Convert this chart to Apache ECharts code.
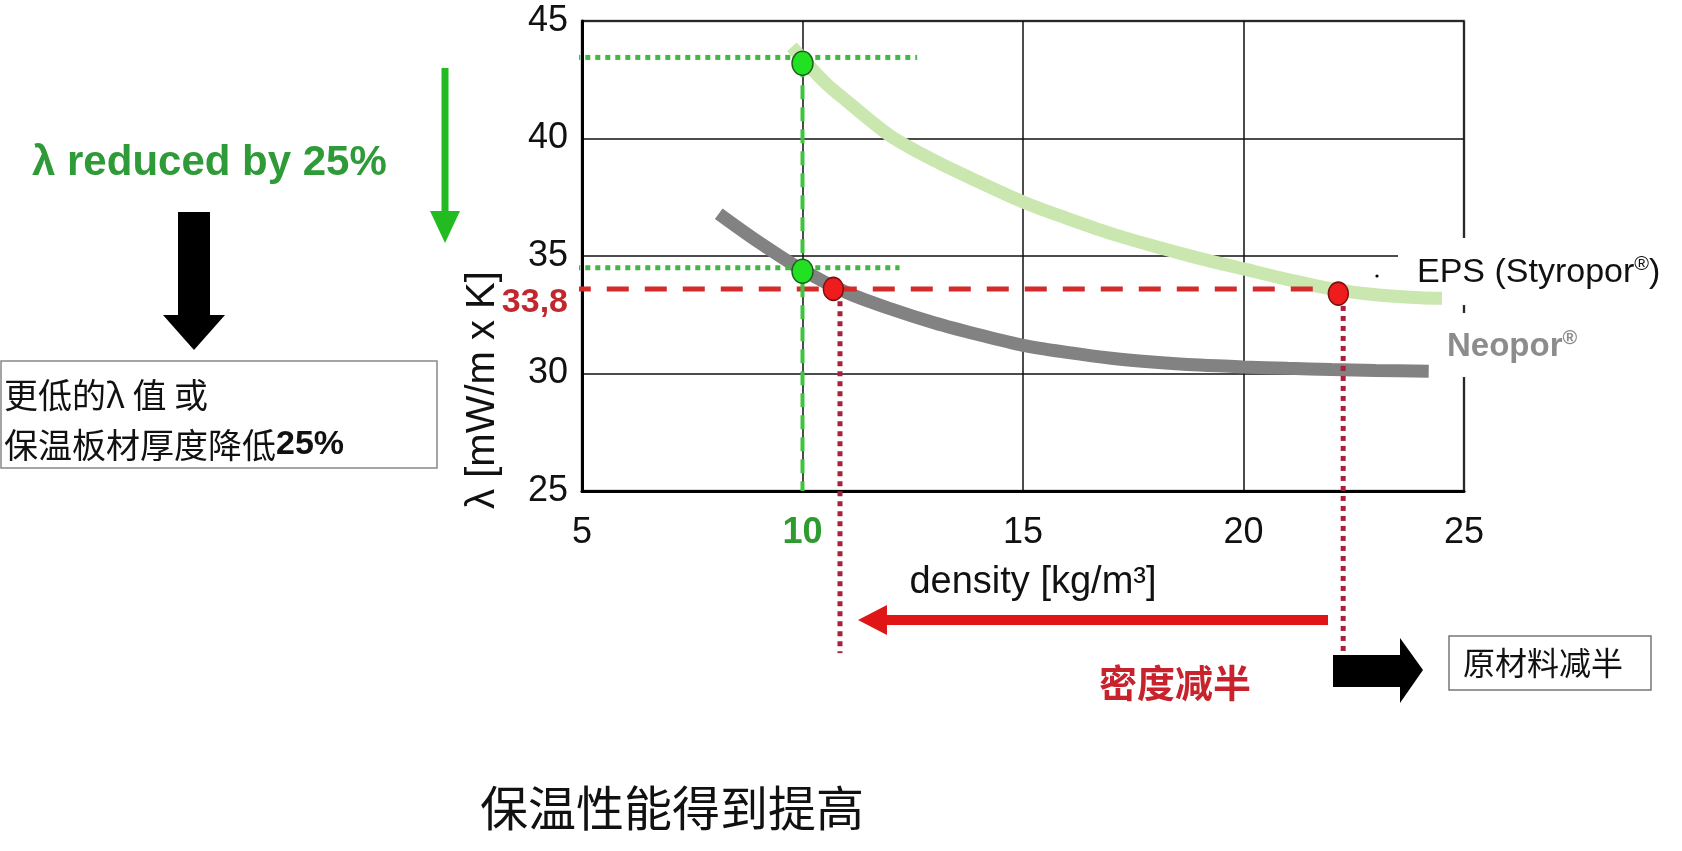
<!DOCTYPE html>
<html>
<head>
<meta charset="utf-8">
<title>EPS vs Neopor</title>
<script src="https://cdn.jsdelivr.net/npm/echarts@6/dist/echarts.min.js"></script>
<style>
  html, body { margin: 0; padding: 0; background: #fff; }
  #chart { width: 1682px; height: 851px; }
</style>
</head>
<body>
<div id="chart"></div>
<script>
// 坐标轴刻度
var densityTicks = [5, 10, 15, 20, 25];
var lambdaTicks = [25, 30, 35, 40, 45];

// 两条曲线 [density, lambda]
var epsCurve = [[9.76, 43.9], [10.5, 42.4], [11, 41.6], [12, 40.1], [13, 39.05], [14, 38.15],
  [15, 37.3], [16, 36.6], [17, 35.95], [18, 35.4], [19, 34.9], [20, 34.45], [21, 34.0],
  [22, 33.6], [23, 33.35], [24, 33.22], [24.5, 33.2]];
var neoporCurve = [[8.1, 36.8], [9, 35.6], [10, 34.4], [11, 33.45], [12, 32.75], [13, 32.15],
  [14, 31.65], [15, 31.2], [16, 30.9], [17, 30.65], [18, 30.48], [19, 30.36], [20, 30.28],
  [21, 30.22], [22, 30.17], [23, 30.13], [24.2, 30.1]];

// 标记点
var greenPoints = [[10, 43.2], [10, 34.35]];
var redPoints = [[10.7, 33.6], [22.15, 33.4]];

// 辅助线
var greenVertical = [[10, 43.2], [10, 25]];
var greenTopDotted = [[1.9, 43.45], [12.6, 43.45]];
var greenLowDotted = [[1.9, 34.5], [12.2, 34.5]];
var redDashed = [[4.7, 33.6], [21.6, 33.6]];
var redDottedLeft = [[10.85, 33.5], [10.85, 18.1]];
var redDottedRight = [[22.26, 33.3], [22.26, 18.1]];

var latin = 'Liberation Sans, Arial, sans-serif';
var cjk = 'Noto Sans CJK SC, sans-serif';

var myChart = echarts.init(document.getElementById('chart'));

function helperLine(data, color, type, width, z) {
  return {
    type: 'line',
    data: data,
    symbol: 'none',
    clip: false,
    silent: true,
    z: z,
    lineStyle: { color: color, width: width, type: type, cap: 'butt' }
  };
}

var option = {
  animation: false,
  backgroundColor: '#fff',
  grid: {
    left: 582, right: 218, top: 21, bottom: 360,
    show: true, borderColor: '#707070', borderWidth: 2.5
  },
  xAxis: {
    type: 'value',
    min: densityTicks[0],
    max: densityTicks[densityTicks.length - 1],
    interval: densityTicks[1] - densityTicks[0],
    axisLine: { lineStyle: { color: '#000', width: 3 } },
    axisTick: { show: false },
    splitLine: { lineStyle: { color: '#111', width: 1.5 } },
    axisLabel: {
      margin: 24,
      formatter: function (v) { return v === 10 ? '{g|' + v + '}' : '{n|' + v + '}'; },
      rich: {
        n: { fontSize: 36, fontFamily: latin, color: '#111' },
        g: { fontSize: 36, fontFamily: latin, fontWeight: 'bold', color: '#2e9b2e' }
      }
    }
  },
  yAxis: {
    type: 'value',
    min: lambdaTicks[0],
    max: lambdaTicks[lambdaTicks.length - 1],
    interval: lambdaTicks[1] - lambdaTicks[0],
    axisLine: { show: true, lineStyle: { color: '#000', width: 3 } },
    axisTick: { show: false },
    splitLine: { lineStyle: { color: '#111', width: 1.5 } },
    axisLabel: { margin: 14, fontSize: 36, fontFamily: latin, color: '#111' }
  },
  series: [
    {
      name: 'EPS (Styropor®)',
      type: 'line',
      data: epsCurve,
      smooth: 0.3,
      symbol: 'none',
      z: 3,
      lineStyle: { color: '#c9e7ae', width: 13, cap: 'butt' }
    },
    {
      name: 'Neopor®',
      type: 'line',
      data: neoporCurve,
      smooth: 0.3,
      symbol: 'none',
      z: 3,
      lineStyle: { color: '#828282', width: 13, cap: 'butt' }
    },
    helperLine(greenTopDotted, '#45b545', [5, 5], 5, 4),
    helperLine(greenLowDotted, '#45b545', [5, 5], 5, 4),
    helperLine(redDashed, '#d42a2a', [22, 16], 5, 4),
    helperLine(redDottedLeft, '#a8203a', [5, 5], 5, 4),
    helperLine(redDottedRight, '#a8203a', [5, 5], 5, 4),
    helperLine(greenVertical, '#3ec43e', [14, 8], 4, 4),
    {
      type: 'scatter',
      data: greenPoints,
      symbolSize: [21, 24],
      z: 6,
      itemStyle: { color: '#22e022', borderColor: '#1b5e1b', borderWidth: 1.5, opacity: 1 }
    },
    {
      type: 'scatter',
      data: redPoints,
      symbolSize: [20, 23],
      z: 6,
      itemStyle: { color: '#ee1c1c', borderColor: '#7a1010', borderWidth: 1.5, opacity: 1 }
    }
  ],
  graphic: [
    // 图例文字背景, 盖住右边框
    { type: 'rect', z: 1, shape: { x: 1398, y: 238, width: 284, height: 67 }, style: { fill: '#fff' } },
    { type: 'rect', z: 1, shape: { x: 1428, y: 313, width: 254, height: 64 }, style: { fill: '#fff' } },
    // 左侧说明
    {
      type: 'text', z: 10, x: 32, y: 163,
      style: { text: 'λ reduced by 25%', fill: '#2e9a38', font: 'bold 42px ' + latin, textVerticalAlign: 'middle' }
    },
    { type: 'line', z: 10, shape: { x1: 445, y1: 68, x2: 445, y2: 214 }, style: { stroke: '#22bb22', lineWidth: 7 } },
    { type: 'polygon', z: 10, shape: { points: [[430, 211], [460, 211], [445, 243]] }, style: { fill: '#22bb22' } },
    { type: 'rect', z: 10, shape: { x: 178, y: 212, width: 32, height: 104 }, style: { fill: '#000' } },
    { type: 'polygon', z: 10, shape: { points: [[163, 315], [225, 315], [194, 350]] }, style: { fill: '#000' } },
    { type: 'rect', z: 10, shape: { x: 1, y: 361, width: 436, height: 107 }, style: { fill: '#fff', stroke: '#888', lineWidth: 1.5 } },
    {
      type: 'text', z: 11, x: 4, y: 395,
      style: { text: '更低的λ 值 或', fill: '#111', font: '34px ' + cjk, textVerticalAlign: 'middle' }
    },
    {
      type: 'text', z: 11, x: 4, y: 445,
      style: {
        text: '{a|保温板材厚度降低}{b|25%}', textVerticalAlign: 'middle',
        rich: {
          a: { fontSize: 34, fontFamily: cjk, fill: '#111' },
          b: { fontSize: 34, fontFamily: latin, fontWeight: 'bold', fill: '#111' }
        }
      }
    },
    // y轴名称
    {
      type: 'text', z: 10, x: 483, y: 390, rotation: Math.PI / 2,
      style: { text: 'λ [mW/m x K]', fill: '#111', font: '40px ' + latin, textAlign: 'center', textVerticalAlign: 'middle' }
    },
    {
      type: 'text', z: 10, x: 568, y: 303,
      style: { text: '33,8', fill: '#c1272d', font: 'bold 34px ' + latin, textAlign: 'right', textVerticalAlign: 'middle' }
    },
    // x轴名称
    {
      type: 'text', z: 10, x: 1033, y: 583,
      style: { text: 'density [kg/m³]', fill: '#111', font: '38px ' + latin, textAlign: 'center', textVerticalAlign: 'middle' }
    },
    // 密度减半 箭头
    { type: 'line', z: 10, shape: { x1: 884, y1: 620, x2: 1328, y2: 620 }, style: { stroke: '#e01515', lineWidth: 10 } },
    { type: 'polygon', z: 10, shape: { points: [[858, 620], [887, 605], [887, 635]] }, style: { fill: '#e01515' } },
    {
      type: 'text', z: 10, x: 1175, y: 683,
      style: { text: '密度减半', fill: '#c8232c', font: 'bold 38px ' + cjk, textAlign: 'center', textVerticalAlign: 'middle' }
    },
    { type: 'rect', z: 10, shape: { x: 1333, y: 655, width: 68, height: 32 }, style: { fill: '#000' } },
    { type: 'polygon', z: 10, shape: { points: [[1400, 638], [1423, 670], [1400, 703]] }, style: { fill: '#000' } },
    { type: 'rect', z: 10, shape: { x: 1449, y: 636, width: 202, height: 54 }, style: { fill: '#fff', stroke: '#777', lineWidth: 1.5 } },
    {
      type: 'text', z: 11, x: 1543, y: 663,
      style: { text: '原材料减半', fill: '#111', font: '32px ' + cjk, textAlign: 'center', textVerticalAlign: 'middle' }
    },
    // 曲线标签
    { type: 'circle', z: 10, shape: { cx: 1377, cy: 276, r: 1.6 }, style: { fill: '#000' } },
    {
      type: 'text', z: 10, x: 1417, y: 273,
      style: {
        text: '{a|EPS (Styropor}{s|®}{a|)}', textVerticalAlign: 'middle',
        rich: {
          a: { fontSize: 34, fontFamily: latin, fill: '#111', lineHeight: 38 },
          s: { fontSize: 20, fontFamily: latin, fill: '#111', lineHeight: 38, verticalAlign: 'top' }
        }
      }
    },
    {
      type: 'text', z: 10, x: 1447, y: 347,
      style: {
        text: '{a|Neopor}{s|®}', textVerticalAlign: 'middle',
        rich: {
          a: { fontSize: 33, fontFamily: latin, fontWeight: 'bold', fill: '#8c8c8c', lineHeight: 38 },
          s: { fontSize: 20, fontFamily: latin, fontWeight: 'bold', fill: '#8c8c8c', lineHeight: 38, verticalAlign: 'top' }
        }
      }
    },
    // 底部文字
    {
      type: 'text', z: 10, x: 480, y: 808,
      style: { text: '保温性能得到提高', fill: '#111', font: '48px ' + cjk, textVerticalAlign: 'middle' }
    }
  ]
};

myChart.setOption(option);
</script>
</body>
</html>
